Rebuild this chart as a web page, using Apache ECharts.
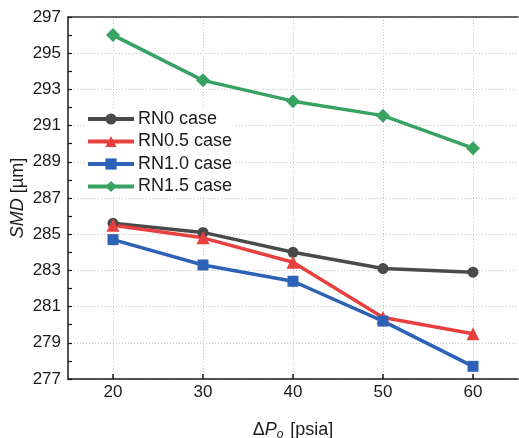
<!DOCTYPE html>
<html>
<head>
<meta charset="utf-8">
<script src="https://cdn.jsdelivr.net/npm/echarts@6/dist/echarts.min.js"></script>
<style>
  html, body { margin: 0; padding: 0; background: #fff; }
  #chart { width: 519px; height: 438px; }
</style>
</head>
<body>
<div id="chart"></div>
<script>
// Pressure drop (psia) and measured Sauter mean diameter (µm) per case
const pressureDrop = [20, 30, 40, 50, 60];
const rn0 = [285.6, 285.1, 284.0, 283.1, 282.9];
const rn05 = [285.5, 284.8, 283.45, 280.4, 279.5];
const rn10 = [284.7, 283.3, 282.4, 280.2, 277.7];
const rn15 = [296.0, 293.5, 292.35, 291.55, 289.75];
const seriesNames = ['RN0 case', 'RN0.5 case', 'RN1.0 case', 'RN1.5 case'];
const xTicks = [20, 30, 40, 50, 60];

const FONT = 'Liberation Sans, Arial, sans-serif';
const AXIS_COLOR = '#1a1a1a';
const GRID_COLOR = '#c4c4c4';
const GRID_DASH = [1, 2];

function pairs(ys) {
  return pressureDrop.map((x, i) => [x, ys[i]]);
}

function lineSeries(name, ys, color, symbol, size) {
  return {
    name: name,
    type: 'line',
    data: pairs(ys),
    symbol: symbol,
    symbolSize: size,
    showSymbol: true,
    lineStyle: { color: color, width: 3.5 },
    itemStyle: { color: color },
    z: 3
  };
}

const chart = echarts.init(document.getElementById('chart'), null, { renderer: 'canvas' });

chart.setOption({
  animation: false,
  backgroundColor: '#fff',
  textStyle: { fontFamily: FONT },
  grid: { left: 68, right: 1, top: 17, bottom: 59, containLabel: false, outerBoundsMode: 'none' },
  legend: {
    orient: 'vertical',
    left: 84,
    top: 109,
    padding: [1, 2, 1, 2],
    backgroundColor: '#fff',
    itemWidth: 46,
    itemHeight: 14,
    itemGap: 4.5,
    lineStyle: { width: 4 },
    textStyle: { fontFamily: FONT, fontSize: 18, color: '#1a1a1a', lineHeight: 18, padding: [0, 0, 0, -1] },
    data: seriesNames
  },
  xAxis: [
    {
      type: 'value',
      min: 15,
      max: 65,
      interval: 5,
      position: 'bottom',
      name: '{n|Δ}{i|P}{sub|o}{n| [psia]}',
      nameLocation: 'middle',
      nameGap: 40,
      nameTextStyle: {
        rich: {
          n: { fontFamily: FONT, fontSize: 18, color: '#1a1a1a', lineHeight: 22 },
          i: { fontFamily: FONT, fontSize: 18, fontStyle: 'italic', color: '#1a1a1a', lineHeight: 22 },
          sub: { fontFamily: FONT, fontSize: 12, fontStyle: 'italic', color: '#1a1a1a', verticalAlign: 'bottom', lineHeight: 12, padding: [0, 2, 0, 0] }
        }
      },
      axisLine: { show: true, lineStyle: { color: AXIS_COLOR, width: 1.5 } },
      axisTick: { show: true, inside: true, length: 5, customValues: xTicks, lineStyle: { color: AXIS_COLOR, width: 1.5 } },
      axisLabel: { customValues: xTicks, fontSize: 17, color: '#1a1a1a', margin: 5, fontFamily: FONT },
      splitLine: { show: true, lineStyle: { color: GRID_COLOR, type: GRID_DASH, width: 1 } }
    },
    {
      type: 'value',
      min: 15,
      max: 65,
      position: 'top',
      axisLine: { show: true, lineStyle: { color: '#333', width: 1.5 } },
      axisTick: { show: false },
      axisLabel: { show: false },
      splitLine: { show: false }
    }
  ],
  yAxis: {
    type: 'value',
    min: 277,
    max: 297,
    interval: 1,
    name: '{i|SMD}{n| [µm]}',
    nameLocation: 'middle',
    nameGap: 41,
    nameMoveOverlap: false,
    nameRotate: 90,
    nameTextStyle: {
      rich: {
        n: { fontFamily: FONT, fontSize: 18, color: '#1a1a1a' },
        i: { fontFamily: FONT, fontSize: 18, fontStyle: 'italic', color: '#1a1a1a' }
      }
    },
    axisLine: { show: true, lineStyle: { color: AXIS_COLOR, width: 1.5 } },
    axisTick: { show: true, inside: true, length: 4, lineStyle: { color: AXIS_COLOR, width: 1.2 } },
    axisLabel: {
      fontSize: 17,
      color: '#1a1a1a',
      margin: 7,
      fontFamily: FONT,
      formatter: function (v) { return (Math.round(v) % 2 === 1) ? String(v) : ''; }
    },
    // grid lines only at labelled (odd) values: alternate visible / transparent
    splitLine: { show: true, lineStyle: { color: [GRID_COLOR, 'rgba(0,0,0,0)'], type: GRID_DASH, width: 1 } }
  },
  series: [
    lineSeries(seriesNames[0], rn0, '#4a4a4a', 'circle', 11),
    lineSeries(seriesNames[1], rn05, '#e8403f', 'triangle', 13),
    lineSeries(seriesNames[2], rn10, '#2d62b6', 'rect', 11),
    lineSeries(seriesNames[3], rn15, '#38a262', 'diamond', 14)
  ]
});
</script>
</body>
</html>
